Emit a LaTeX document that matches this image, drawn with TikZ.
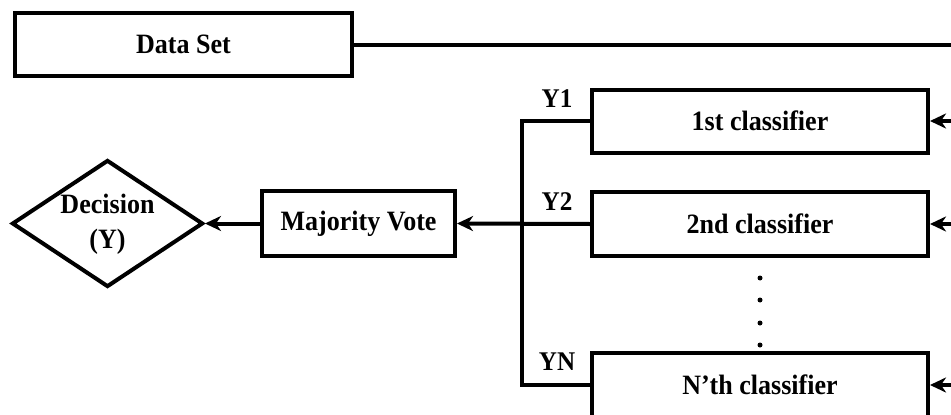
\documentclass[tikz,border=0pt]{standalone}
\usepackage{fontspec}
\setmainfont{Liberation Serif}
\newfontfamily\boxfont[FakeStretch=0.93]{Liberation Serif}
\usetikzlibrary{arrows.meta,shapes.geometric}

\tikzset{
  box/.style={draw, line width=4pt, rectangle, inner sep=0pt,
              font=\boxfont\fontsize{28}{32}\selectfont\bfseries},
  dec/.style={draw, line width=4pt, diamond, inner sep=0pt},
  txt/.style={inner sep=0pt, font=\boxfont\fontsize{28}{32}\selectfont\bfseries, align=center},
  lbl/.style={inner sep=0pt, font=\boxfont\fontsize{27}{30}\selectfont\bfseries},
  wire/.style={line width=4pt},
  arr/.style={line width=4pt, -{Stealth[length=16pt,width=15pt,inset=5pt]}},
  dotmark/.style={circle, fill, inner sep=0pt, minimum size=5pt}
}

\begin{document}
\begin{tikzpicture}[x=1pt,y=-1pt]
  \useasboundingbox (0,0) rectangle (951,415);

  % input data and classifier bank
  \node[box, minimum width=337pt, minimum height=63pt] (data) at (183.5,44.5) {Data Set};
  \node[box, minimum width=336pt, minimum height=63pt] (c1) at (760,121) {1st classifier};
  \node[box, minimum width=336pt, minimum height=64pt] (c2) at (760,224) {2nd classifier};
  \node[box, minimum width=336pt, minimum height=64pt] (cN) at (760,385) {N’th classifier};

  % voting and decision
  \node[box, minimum width=193pt, minimum height=65pt] (mv) at (358.5,223.5) {Majority Vote};
  \node[dec, minimum width=191pt, minimum height=127pt] (dc) at (107.5,223.5) {};
  \node[txt] (dctext) at (107.5,224.5) {Decision\\[3pt](Y)};

  % outputs of the classifiers
  \node[lbl] (y1) at (557,99) {Y1};
  \node[lbl] (y2) at (557,202) {Y2};
  \node[lbl] (yn) at (557,362) {YN};

  % ellipsis between 2nd and N'th classifier
  \node[dotmark] (d1) at (760,278) {};
  \node[dotmark] (d2) at (760,300) {};
  \node[dotmark] (d3) at (760,323) {};
  \node[dotmark] (d4) at (760,345) {};

  % data feed to every classifier
  \coordinate (busTop) at (962,44.5);
  \coordinate (busBot) at (962,385);
  \draw[wire] (data.east) -- (busTop) -- (busBot);
  \draw[arr] (busTop |- c1.east) -- (c1.east);
  \draw[arr] (busTop |- c2.east) -- (c2.east);
  \draw[arr] (busTop |- cN.east) -- (cN.east);

  % collecting the predictions
  \coordinate (vbus) at (522,0);
  \draw[wire] (c1.west) -- (vbus |- c1.west) -- (vbus |- cN.west) -- (cN.west);
  \draw[arr] (c2.west) -- (mv.east);
  \draw[arr] (mv.west) -- (dc.east);
\end{tikzpicture}
\end{document}
